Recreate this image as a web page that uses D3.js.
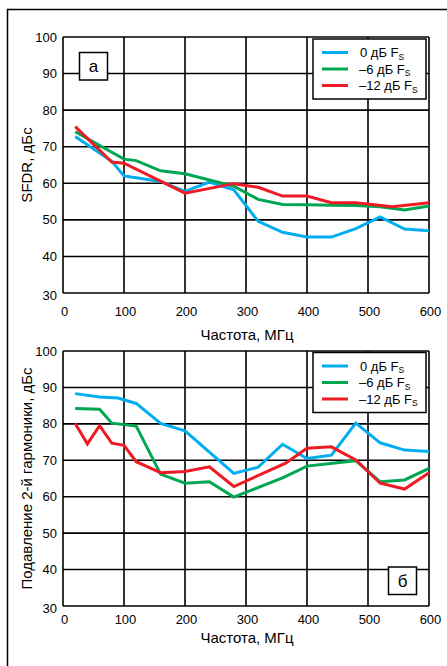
<!DOCTYPE html>
<html>
<head>
<meta charset="utf-8">
<script src="https://cdn.jsdelivr.net/npm/d3@7"></script>
<style>
  html, body { margin: 0; padding: 0; background: #fff; }
  svg { display: block; font-family: "Liberation Sans", Arial, sans-serif; }
</style>
</head>
<body>
<svg id="chart" width="447" height="666"></svg>
<script>
// ---- Data ----
const xTicks = [0, 100, 200, 300, 400, 500, 600];
const yTicks = [30, 40, 50, 60, 70, 80, 90, 100];
const seriesNames = ["0 дБ F", "–6 дБ F", "–12 дБ F"];
const seriesColors = ["#00aeef", "#00a651", "#ed1c24"];

// (а) SFDR, dBc vs frequency, MHz
const sfdrFreq0 = [20, 80, 100, 120, 160, 200, 240, 280, 320, 360, 400, 440, 480, 520, 560, 600];
const sfdrVal0  = [72.8, 66, 62, 61.5, 60.5, 57.8, 60.3, 58.2, 49.6, 46.6, 45.3, 45.3, 47.6, 50.8, 47.5, 47];
const sfdrFreq6 = [20, 100, 120, 160, 200, 280, 320, 360, 400, 440, 480, 520, 560, 600];
const sfdrVal6  = [74.1, 66.6, 66.2, 63.4, 62.6, 59.2, 55.6, 54.2, 54.1, 54, 53.9, 53.6, 52.7, 53.8];
const sfdrFreq12 = [20, 80, 100, 200, 280, 320, 360, 400, 440, 480, 540, 600];
const sfdrVal12  = [75.5, 65.8, 65.5, 57.3, 59.9, 58.9, 56.5, 56.5, 54.7, 54.7, 53.6, 54.7];

// (б) 2nd harmonic suppression, dBc vs frequency, MHz
const hd2Freq0 = [20, 60, 90, 120, 160, 200, 280, 320, 360, 400, 440, 480, 520, 560, 600];
const hd2Val0  = [88.3, 87.4, 87.1, 85.6, 80.1, 78.1, 66.4, 68.1, 74.4, 70.5, 71.4, 80.2, 74.8, 72.8, 72.4];
const hd2Freq6 = [20, 60, 80, 120, 160, 200, 240, 280, 360, 400, 480, 520, 560, 600];
const hd2Val6  = [84.2, 84, 80.2, 79.4, 66.2, 63.7, 64.1, 59.9, 65.2, 68.4, 69.9, 64.1, 64.6, 67.8];
const hd2Freq12 = [20, 40, 60, 80, 100, 120, 160, 200, 240, 280, 365, 400, 440, 480, 520, 560, 600];
const hd2Val12  = [80.1, 74.5, 79.5, 74.7, 74.1, 69.6, 66.6, 66.9, 68.2, 62.8, 69.2, 73.3, 73.7, 70.1, 63.7, 62.1, 66.6];

const svg = d3.select("#chart");

// Outer frame (extends past the right and bottom edges)
svg.append("rect")
  .attr("x", 7.5).attr("y", 9.5)
  .attr("width", 600).attr("height", 800)
  .attr("fill", "none").attr("stroke", "#000").attr("stroke-width", 1.5);

function zip(xs, ys) { return xs.map((x, i) => [x, ys[i]]); }

function panel(opts) {
  const x = d3.scaleLinear().domain([0, 600]).range([63, 429]);
  const y = d3.scaleLinear().domain([30, 100]).range([opts.bottom, opts.top]);
  const g = svg.append("g");

  // Grid
  g.append("g").selectAll("line").data(xTicks).join("line")
    .attr("x1", d => x(d)).attr("x2", d => x(d))
    .attr("y1", y(30)).attr("y2", y(100))
    .attr("stroke", "#000").attr("stroke-width", 1.6);
  g.append("g").selectAll("line").data(yTicks).join("line")
    .attr("x1", x(0)).attr("x2", x(600))
    .attr("y1", d => y(d)).attr("y2", d => y(d))
    .attr("stroke", "#000").attr("stroke-width", 1.6);

  // Tick labels
  g.append("g").selectAll("text").data(yTicks).join("text")
    .attr("x", 57).attr("y", d => y(d) + (d === 30 ? 2 : 0))
    .attr("text-anchor", "end").attr("dominant-baseline", "central")
    .attr("font-size", 13).text(d => d);
  g.append("g").selectAll("text").data(xTicks).join("text")
    .attr("x", d => x(d) + 1.5).attr("y", y(30) + opts.tickGap)
    .attr("text-anchor", "middle")
    .attr("font-size", 13).text(d => d);

  // Axis titles
  g.append("text")
    .attr("x", (x(0) + x(600)) / 2 + 1).attr("y", y(30) + opts.titleGap)
    .attr("text-anchor", "middle").attr("font-size", 15)
    .text("Частота, МГц");
  g.append("text")
    .attr("transform", `translate(32,${(y(30) + y(100)) / 2}) rotate(-90)`)
    .attr("text-anchor", "middle").attr("font-size", 15)
    .text(opts.yTitle);

  // Curves
  const line = d3.line().x(d => x(d[0])).y(d => y(d[1]));
  opts.series.forEach((s, i) => {
    g.append("path").datum(s)
      .attr("d", line)
      .attr("fill", "none")
      .attr("stroke", seriesColors[i])
      .attr("stroke-width", 3)
      .attr("stroke-linejoin", "miter");
  });

  // Legend
  const lg = g.append("g").attr("transform", `translate(313,${opts.legendTop})`);
  lg.append("rect").attr("x", 0).attr("y", 0).attr("width", 113).attr("height", 60)
    .attr("fill", "#fff").attr("stroke", "#000").attr("stroke-width", 1.5);
  seriesNames.forEach((name, i) => {
    const cy = 13.5 + i * 16.5;
    lg.append("line").attr("x1", 9).attr("x2", 35).attr("y1", cy).attr("y2", cy)
      .attr("stroke", seriesColors[i]).attr("stroke-width", 3);
    const t = lg.append("text").attr("x", i === 0 ? 47 : 46).attr("y", cy + 4.5).attr("font-size", 13);
    t.append("tspan").text(name);
    t.append("tspan").attr("font-size", 8.5).attr("dy", 2.5).text("S");
  });

  // Panel tag
  const tg = g.append("g");
  tg.append("rect").attr("x", opts.tagX).attr("y", opts.tagY).attr("width", 28).attr("height", 27.5)
    .attr("fill", "#fff").attr("stroke", "#000").attr("stroke-width", 1.5);
  tg.append("text").attr("x", opts.tagX + 14).attr("y", opts.tagY + 14)
    .attr("text-anchor", "middle").attr("dominant-baseline", "central")
    .attr("font-size", 17).text(opts.tag);
}

panel({
  top: 37, bottom: 293, tickGap: 23, titleGap: 47,
  yTitle: "SFDR, дБс",
  series: [zip(sfdrFreq0, sfdrVal0), zip(sfdrFreq6, sfdrVal6), zip(sfdrFreq12, sfdrVal12)],
  legendTop: 39, tag: "а", tagX: 79.5, tagY: 52.5
});

panel({
  top: 351, bottom: 606, tickGap: 18, titleGap: 37,
  yTitle: "Подавление 2-й гармоники, дБс",
  series: [zip(hd2Freq0, hd2Val0), zip(hd2Freq6, hd2Val6), zip(hd2Freq12, hd2Val12)],
  legendTop: 352.5, tag: "б", tagX: 388.5, tagY: 567
});
</script>
</body>
</html>
